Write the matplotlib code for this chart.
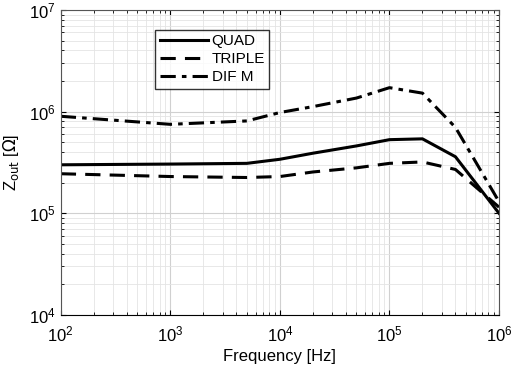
import matplotlib
matplotlib.use("Agg")
import matplotlib.pyplot as plt

plt.rcParams['font.family'] = ['Liberation Sans', 'DejaVu Sans']

freq = [1e2, 1e3, 5e3, 1e4, 2e4, 5e4, 1e5, 2e5, 4e5, 1e6]
quad = [3.0e5, 3.05e5, 3.1e5, 3.4e5, 3.9e5, 4.6e5, 5.3e5, 5.4e5, 3.6e5, 1.0e5]
triple = [2.45e5, 2.3e5, 2.25e5, 2.3e5, 2.55e5, 2.8e5, 3.1e5, 3.2e5, 2.7e5, 1.15e5]
difm = [9.0e5, 7.5e5, 8.1e5, 9.8e5, 1.12e6, 1.36e6, 1.72e6, 1.52e6, 7.0e5, 1.3e5]

fig = plt.figure(figsize=(5.15, 3.68), dpi=100)
ax = fig.add_axes([0.118, 0.144, 0.851, 0.829])

ax.plot(freq, quad, color='black', lw=2.2, ls='-', label='QUAD')
ax.plot(freq, triple, color='black', lw=2.2, ls=(0, (5, 3)), label='TRIPLE')
ax.plot(freq, difm, color='black', lw=2.2, ls=(0, (5, 2, 1.5, 2)), label='DIF M')

ax.set_xscale('log')
ax.set_yscale('log')
ax.set_xlim(1e2, 1e6)
ax.set_ylim(1e4, 1e7)
ax.grid(True, which='major', color='#d0d0d0', lw=0.8)
ax.grid(True, which='minor', color='#e4e4e4', lw=0.6)
ax.tick_params(which='both', direction='in', top=True, right=True, labelsize=12)
ax.tick_params(axis='x', which='major', pad=7)
for s in ax.spines.values():
    s.set_color('#555555')
ax.spines['bottom'].set_color('black')

ax.set_xlabel('Frequency [Hz]', fontsize=12, labelpad=3)
ax.set_ylabel(r'Z$_{\rm out}$ [$\Omega$]', fontsize=12, labelpad=6)

leg = ax.legend(loc='upper left', bbox_to_anchor=(0.215, 0.935), fontsize=11,
                frameon=True, fancybox=False, edgecolor='black',
                handlelength=3.2, handletextpad=0.2, borderpad=0.3,
                labelspacing=0.25, borderaxespad=0)
leg.get_frame().set_linewidth(1.0)

fig.savefig('out.png', dpi=100)
